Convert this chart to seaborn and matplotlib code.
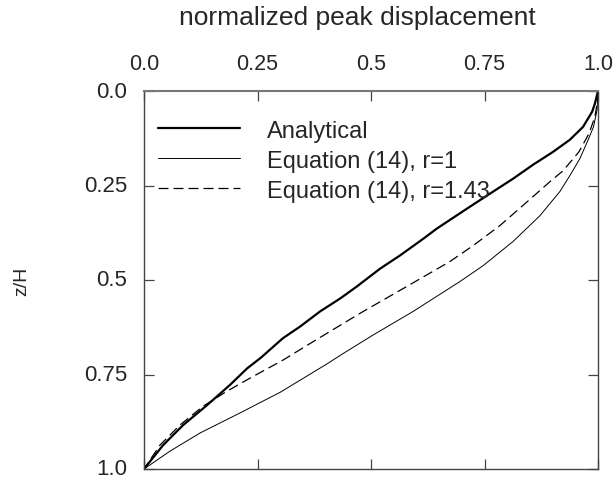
import matplotlib
matplotlib.use("Agg")
import matplotlib.pyplot as plt
import seaborn as sns
import pandas as pd

# normalized peak displacement (x) vs z/H (y)
z_analytical = [0.0, 0.034, 0.055, 0.095, 0.129, 0.161, 0.195, 0.232, 0.277, 0.306, 0.364,
                0.391, 0.435, 0.470, 0.517, 0.549, 0.583, 0.623, 0.654, 0.705, 0.734, 0.778,
                0.831, 0.884, 0.937, 1.0]
u_analytical = [1.0, 0.993, 0.987, 0.967, 0.938, 0.901, 0.857, 0.813, 0.755, 0.718, 0.645,
                0.615, 0.564, 0.520, 0.469, 0.432, 0.388, 0.344, 0.306, 0.258, 0.227, 0.189,
                0.139, 0.086, 0.042, 0.0]

z_r1 = [0.0, 0.05, 0.095, 0.13, 0.179, 0.224, 0.266, 0.330, 0.398, 0.462, 0.504, 0.583,
        0.646, 0.695, 0.722, 0.797, 0.852, 0.905, 0.953, 1.0]
u_r1 = [1.0, 0.998, 0.99, 0.978, 0.960, 0.938, 0.916, 0.872, 0.813, 0.747, 0.696, 0.593,
        0.504, 0.438, 0.403, 0.300, 0.211, 0.123, 0.057, 0.0]

z_r143 = [0.0, 0.034, 0.069, 0.113, 0.161, 0.211, 0.240, 0.293, 0.356, 0.409, 0.451, 0.517,
          0.588, 0.673, 0.712, 0.760, 0.794, 0.834, 0.884, 0.937, 1.0]
u_r143 = [1.0, 0.998, 0.993, 0.980, 0.958, 0.923, 0.894, 0.844, 0.784, 0.725, 0.674, 0.579,
          0.476, 0.359, 0.306, 0.233, 0.183, 0.130, 0.079, 0.035, 0.0]

series_labels = ["Analytical", "Equation (14), r=1", "Equation (14), r=1.43"]
tick_vals = [0.0, 0.25, 0.5, 0.75, 1.0]
tick_labels = ["0.0", "0.25", "0.5", "0.75", "1.0"]

sns.set_style("ticks")
plt.rcParams["font.family"] = ["Liberation Sans", "DejaVu Sans"]

W, H = 616, 481
left, right, top, bottom = 144, 598, 92, 470
fig = plt.figure(figsize=(W / 100, H / 100), dpi=100)
ax = fig.add_axes([left / W, 1 - bottom / H, (right - left) / W, (bottom - top) / H])

df_a = pd.DataFrame({"u": u_analytical, "z": z_analytical})
df_1 = pd.DataFrame({"u": u_r1, "z": z_r1})
df_2 = pd.DataFrame({"u": u_r143, "z": z_r143})

sns.lineplot(data=df_a, x="u", y="z", sort=False, estimator=None, color="black",
             linewidth=1.6, label=series_labels[0], ax=ax)
sns.lineplot(data=df_1, x="u", y="z", sort=False, estimator=None, color="black",
             linewidth=0.7, label=series_labels[1], ax=ax)
sns.lineplot(data=df_2, x="u", y="z", sort=False, estimator=None, color="black",
             linewidth=0.9, label=series_labels[2], ax=ax)
ax.lines[2].set_dashes((8, 4))

ax.set_xlim(0, 1)
ax.set_ylim(1, 0)
ax.xaxis.tick_top()
ax.xaxis.set_label_position("top")
ax.set_xticks(tick_vals)
ax.set_xticklabels(tick_labels)
ax.set_yticks(tick_vals)
ax.set_yticklabels(tick_labels, va="center")
ax.set_xlabel("normalized peak displacement", fontsize=19)
ax.set_ylabel("z/H", fontsize=14)
ax.xaxis.set_label_coords((357 - left) / (right - left), 1 + (top - 18) / (bottom - top))
ax.xaxis.label.set_va("center")
ax.yaxis.set_label_coords((22 - left) / (right - left), 0.5)
ax.yaxis.label.set_va("center")

ax.tick_params(axis="both", direction="in", length=7, width=0.9, color="#444444",
               top=True, bottom=True, left=True, right=True,
               labeltop=True, labelbottom=False, labelleft=True, labelright=False)
ax.tick_params(axis="x", pad=12, labelsize=15.5)
ax.tick_params(axis="y", pad=12, labelsize=16)
for s in ax.spines.values():
    s.set_visible(True)
    s.set_color("#444444")
    s.set_linewidth(1.0)
ax.spines["top"].set_color("#777777")
ax.spines["top"].set_linewidth(1.5)

leg = ax.legend(loc="upper left", frameon=False, fontsize=17, handlelength=3.47,
                handletextpad=1.14, labelspacing=0.34, borderaxespad=0.0, borderpad=0.4,
                bbox_to_anchor=(0.01, 0.9495))

fig.savefig("out.png", dpi=100)
